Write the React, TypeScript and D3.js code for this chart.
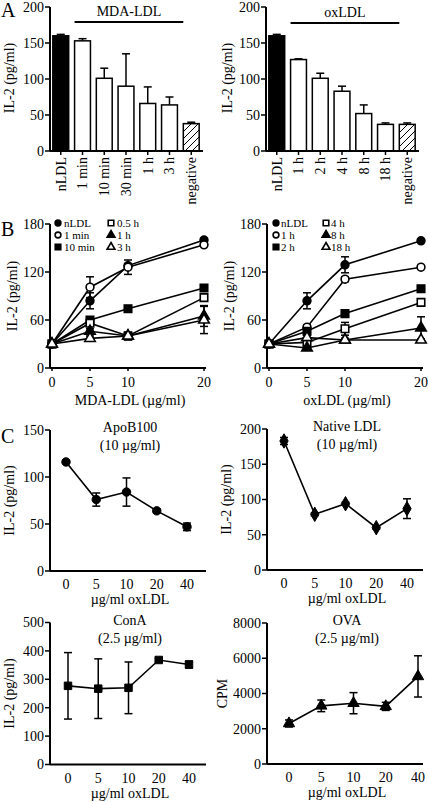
import React from "react";
import * as d3 from "d3";

const FONT = "'Liberation Serif','DejaVu Serif Condensed','DejaVu Serif',serif";

// ---------- Panel A data ----------
const aLeftCats = ["nLDL", "1 min", "10 min", "30 min", "1 h", "3 h", "negative"];
const aLeftVals = [160, 153, 101, 90, 66, 64, 38];
const aLeftErr = [2, 3, 14, 45, 23, 11, 2];
const aRightCats = ["nLDL", "1 h", "2 h", "4 h", "8 h", "18 h", "negative"];
const aRightVals = [160, 127, 101, 83, 52, 37, 37];
const aRightErr = [2, 1, 7, 7, 12, 2, 2];
const aTicks = [0, 50, 100, 150, 200];

// ---------- Panel B data ----------
const bDoses = [0, 5, 10, 20];
const bTicksY = [0, 60, 120, 180];
const bLeftNames = ["nLDL", "1 min", "10 min", "0.5 h", "1 h", "3 h"];
const bLeftVals = [
  [30, 84, 128, 160],
  [30, 101, 126, 154],
  [30, 60, 74, 100],
  [30, 56, 40, 88],
  [30, 46, 40, 65],
  [30, 37, 40, 60],
];
const bLeftErr = [
  [0, 10, 0, 2],
  [0, 13, 9, 2],
  [0, 3, 4, 3],
  [0, 4, 3, 3],
  [0, 3, 5, 13],
  [0, 3, 0, 17],
];
const bRightNames = ["nLDL", "1 h", "2 h", "4 h", "8 h", "18 h"];
const bRightVals = [
  [30, 84, 129, 159],
  [30, 51, 111, 126],
  [30, 46, 68, 99],
  [30, 32, 49, 82],
  [30, 25, 35, 50],
  [30, 38, 35, 35],
];
const bRightErr = [
  [0, 10, 10, 2],
  [0, 3, 3, 2],
  [0, 2, 2, 4],
  [0, 2, 8, 3],
  [0, 2, 2, 14],
  [0, 3, 2, 1],
];

// ---------- Panel C data ----------
const cDoses = ["0", "5", "10", "20", "40"];
const apoVals = [116, 76, 84, 64, 47];
const apoErr = [1, 7, 15, 2, 4];
const apoTicks = [0, 50, 100, 150];
const nativeVals = [183, 79, 94, 60, 87];
const nativeErr = [5, 2, 2, 2, 14];
const nativeTicks = [0, 50, 100, 150, 200];
const conaVals = [277, 267, 270, 368, 352];
const conaErr = [117, 105, 91, 5, 12];
const conaTicks = [0, 100, 200, 300, 400, 500];
const ovaVals = [2300, 3300, 3450, 3270, 4970];
const ovaErr = [200, 330, 600, 230, 1170];
const ovaTicks = [0, 2000, 4000, 6000, 8000];

const FS = 14;

type Lin = d3.ScaleLinear<number, number>;

function YAxis({ scale, x, ticks, fs = FS }: { scale: Lin; x: number; ticks: number[]; fs?: number }) {
  const [r0, r1] = scale.range();
  return (
    <g>
      <line x1={x} x2={x} y1={r0} y2={r1} stroke="#000" strokeWidth={2} />
      {ticks.map((t) => (
        <g key={t}>
          <line x1={x - 5} x2={x} y1={scale(t)} y2={scale(t)} stroke="#000" strokeWidth={1.5} />
          <text x={x - 6} y={scale(t)} dy="0.35em" textAnchor="end" fontSize={fs}>
            {t}
          </text>
        </g>
      ))}
    </g>
  );
}

function YTitle({ x, y, text, fs = FS }: { x: number; y: number; text: string; fs?: number }) {
  return (
    <text transform={`translate(${x},${y}) rotate(-90)`} textAnchor="middle" fontSize={fs} dy="0.35em">
      {text}
    </text>
  );
}

function BarPanel({
  cats, vals, errs, axisX, header, headerY, titleX,
}: {
  cats: string[]; vals: number[]; errs: number[]; axisX: number; header: string; headerY: number; titleX: number;
}) {
  const y = d3.scaleLinear().domain([0, 200]).range([151, 7]);
  const x = d3.scaleBand<string>().domain(cats).range([axisX, axisX + 152]).paddingInner(0.27).paddingOuter(0.13);
  const bw = x.bandwidth();
  const base = y(0);
  const hx0 = x(cats[1])!;
  const hx1 = x(cats[cats.length - 1])!;
  return (
    <g>
      {cats.map((c, i) => {
        const bx = x(c)!;
        const top = y(vals[i]);
        const et = y(vals[i] + errs[i]);
        const cx = bx + bw / 2;
        const fill = i === 0 ? "#000" : i === cats.length - 1 ? "url(#hatch)" : "#fff";
        return (
          <g key={c}>
            <line x1={cx} x2={cx} y1={top} y2={et} stroke="#000" strokeWidth={1.5} />
            <line x1={cx - 4} x2={cx + 4} y1={et} y2={et} stroke="#000" strokeWidth={1.5} />
            <rect x={bx} y={top} width={bw} height={base - top} fill={fill} stroke="#000" strokeWidth={1.5} />
            <line x1={cx} x2={cx} y1={base} y2={base + 4} stroke="#000" strokeWidth={1.5} />
            <text transform={`translate(${cx},${base + 6}) rotate(-90)`} textAnchor="end" dy="0.35em" fontSize={FS}>
              {c}
            </text>
          </g>
        );
      })}
      <line x1={axisX} x2={axisX + 153} y1={base} y2={base} stroke="#000" strokeWidth={2} />
      <YAxis scale={y} x={axisX} ticks={aTicks} />
      <line x1={hx0} x2={hx1} y1={headerY} y2={headerY} stroke="#000" strokeWidth={2} />
      <text x={(hx0 + hx1) / 2} y={headerY - 6} textAnchor="middle" fontSize={FS}>
        {header}
      </text>
      <YTitle x={titleX} y={78} text="IL-2 (pg/ml)" />
    </g>
  );
}

function Marker({ kind, x, y, size = 1 }: { kind: number; x: number; y: number; size?: number }) {
  const filled = kind % 2 === 0;
  const shapes = [d3.symbolCircle, d3.symbolSquare, d3.symbolTriangle];
  const areas = [48, 56, 48];
  const t = Math.floor(kind / 2);
  const p = d3.symbol().type(shapes[t]).size(areas[t] * size)()!;
  return (
    <path
      d={p}
      transform={`translate(${x},${y})`}
      fill={filled ? "#000" : "#fff"}
      stroke="#000"
      strokeWidth={1.6}
    />
  );
}

function LinePanel({
  names, vals, errs, axisX, xTitle, legendX, colGap, textGap,
}: {
  names: string[]; vals: number[][]; errs: number[][]; axisX: number; xTitle: string; legendX: number;
  colGap: number; textGap: number;
}) {
  const y = d3.scaleLinear().domain([0, 180]).range([368, 224]);
  const x = d3.scaleLinear().domain([0, 20]).range([axisX + 2, axisX + 154]);
  const base = y(0);
  const line = d3
    .line<number>()
    .x((_, i) => x(bDoses[i]))
    .y((d) => y(d));
  return (
    <g>
      <line x1={axisX} x2={axisX + 156} y1={base} y2={base} stroke="#000" strokeWidth={2} />
      {bDoses.map((d) => (
        <g key={d}>
          <line x1={x(d)} x2={x(d)} y1={base} y2={base + 3} stroke="#000" strokeWidth={1.5} />
          <text x={x(d)} y={base + 19} textAnchor="middle" fontSize={FS}>
            {d}
          </text>
        </g>
      ))}
      <text x={axisX + 80} y={base + 37} textAnchor="middle" fontSize={FS}>
        {xTitle}
      </text>
      <YAxis scale={y} x={axisX} ticks={bTicksY} />
      <YTitle x={axisX - 38} y={296} text="IL-2 (pg/ml)" />
      {vals.map((s, k) => (
        <path key={"l" + k} d={line(s)!} fill="none" stroke="#000" strokeWidth={1.6} />
      ))}
      {vals.map((s, k) =>
        s.map((v, i) =>
          errs[k][i] > 0 ? (
            <g key={`e${k}-${i}`}>
              <line x1={x(bDoses[i])} x2={x(bDoses[i])} y1={y(v - errs[k][i])} y2={y(v + errs[k][i])} stroke="#000" strokeWidth={1.5} />
              <line x1={x(bDoses[i]) - 4} x2={x(bDoses[i]) + 4} y1={y(v - errs[k][i])} y2={y(v - errs[k][i])} stroke="#000" strokeWidth={1.5} />
              <line x1={x(bDoses[i]) - 4} x2={x(bDoses[i]) + 4} y1={y(v + errs[k][i])} y2={y(v + errs[k][i])} stroke="#000" strokeWidth={1.5} />
            </g>
          ) : null
        )
      )}
      {vals.map((s, k) => s.map((v, i) => <Marker key={`m${k}-${i}`} kind={k} x={x(bDoses[i])} y={y(v)} />))}
      {names.map((n, k) => {
        const col = Math.floor(k / 3);
        const row = k % 3;
        const mx = legendX + col * colGap;
        const my = 223 + row * 12;
        return (
          <g key={"lg" + k}>
            <Marker kind={k} x={mx} y={my} size={0.55} />
            <text x={mx + textGap} y={my} dy="0.35em" fontSize={11}>
              {n}
            </text>
          </g>
        );
      })}
    </g>
  );
}

function CPanel({
  vals, errs, ticks, yMax, axisX, y0, y1, x0, x1, title1, title2, yTitle, shape, titleX,
}: {
  vals: number[]; errs: number[]; ticks: number[]; yMax: number; axisX: number; y0: number; y1: number;
  x0: number; x1: number; title1: string; title2: string; yTitle: string; shape: d3.SymbolType; titleX: number;
}) {
  const y = d3.scaleLinear().domain([0, yMax]).range([y0, y1]);
  const x = d3.scalePoint<string>().domain(cDoses).range([x0, x1]);
  const base = y(0);
  const line = d3
    .line<number>()
    .x((_, i) => x(cDoses[i])!)
    .y((d) => y(d));
  const sym = d3.symbol().type(shape).size(shape === d3.symbolDiamond ? 60 : 56)()!;
  return (
    <g>
      <line x1={axisX} x2={axisX + 156} y1={base} y2={base} stroke="#000" strokeWidth={2} />
      {cDoses.map((d) => (
        <text key={d} x={x(d)!} y={base + 18} textAnchor="middle" fontSize={FS}>
          {d}
        </text>
      ))}
      <text x={axisX + 80} y={base + 33} textAnchor="middle" fontSize={FS}>
        µg/ml oxLDL
      </text>
      <YAxis scale={y} x={axisX} ticks={ticks} />
      <YTitle x={titleX} y={(y0 + y1) / 2} text={yTitle} />
      <text x={axisX + 80} y={y1 + 2} textAnchor="middle" fontSize={FS}>
        {title1}
      </text>
      <text x={axisX + 80} y={y1 + 20} textAnchor="middle" fontSize={FS}>
        {title2}
      </text>
      <path d={line(vals)!} fill="none" stroke="#000" strokeWidth={1.6} />
      {vals.map((v, i) => {
        const cx = x(cDoses[i])!;
        return (
          <g key={i}>
            <line x1={cx} x2={cx} y1={y(v - errs[i])} y2={y(v + errs[i])} stroke="#000" strokeWidth={1.5} />
            <line x1={cx - 4} x2={cx + 4} y1={y(v - errs[i])} y2={y(v - errs[i])} stroke="#000" strokeWidth={1.5} />
            <line x1={cx - 4} x2={cx + 4} y1={y(v + errs[i])} y2={y(v + errs[i])} stroke="#000" strokeWidth={1.5} />
            <path d={sym} transform={`translate(${cx},${y(v)})`} fill="#000" stroke="#000" strokeWidth={1} />
          </g>
        );
      })}
    </g>
  );
}

export default function App() {
  return (
    <svg
      width={428}
      height={802}
      style={{ position: "absolute", left: 0, top: 0, background: "#fff", fontFamily: FONT, fontStretch: "condensed" }}
      fontFamily={FONT}
    >
      <defs>
        <pattern id="hatch" patternUnits="userSpaceOnUse" width={7} height={7}>
          <rect width={7} height={7} fill="#fff" />
          <path d="M-1,8 L8,-1 M-2,2 L2,-2 M5,9 L9,5" stroke="#000" strokeWidth={1} />
        </pattern>
      </defs>
      <rect width={428} height={802} fill="#fff" />
      <text x={1} y={17} fontSize={20}>A</text>
      <text x={1} y={236} fontSize={20}>B</text>
      <text x={1} y={443} fontSize={20}>C</text>

      <BarPanel cats={aLeftCats} vals={aLeftVals} errs={aLeftErr} axisX={50} header="MDA-LDL" headerY={22} titleX={9} />
      <BarPanel cats={aRightCats} vals={aRightVals} errs={aRightErr} axisX={266} header="oxLDL" headerY={23} titleX={227} />

      <LinePanel names={bLeftNames} vals={bLeftVals} errs={bLeftErr} axisX={50} xTitle="MDA-LDL (µg/ml)" legendX={58} colGap={53} textGap={6} />
      <LinePanel names={bRightNames} vals={bRightVals} errs={bRightErr} axisX={267} xTitle="oxLDL (µg/ml)" legendX={276} colGap={50} textGap={5} />

      <CPanel vals={apoVals} errs={apoErr} ticks={apoTicks} yMax={150} axisX={50} y0={571} y1={430}
        x0={66} x1={187} title1="ApoB100" title2="(10 µg/ml)" yTitle="IL-2 (pg/ml)" shape={d3.symbolCircle} titleX={9} />
      <CPanel vals={nativeVals} errs={nativeErr} ticks={nativeTicks} yMax={200} axisX={267} y0={570} y1={429}
        x0={284} x1={407} title1="Native LDL" title2="(10 µg/ml)" yTitle="IL-2 (pg/ml)" shape={d3.symbolDiamond} titleX={226} />
      <CPanel vals={conaVals} errs={conaErr} ticks={conaTicks} yMax={500} axisX={50} y0={764.5} y1={622.5}
        x0={68} x1={189} title1="ConA" title2="(2.5 µg/ml)" yTitle="IL-2 (pg/ml)" shape={d3.symbolSquare} titleX={9} />
      <CPanel vals={ovaVals} errs={ovaErr} ticks={ovaTicks} yMax={8000} axisX={267} y0={764} y1={623}
        x0={289} x1={418} title1="OVA" title2="(2.5 µg/ml)" yTitle="CPM" shape={d3.symbolTriangle} titleX={222} />
    </svg>
  );
}
